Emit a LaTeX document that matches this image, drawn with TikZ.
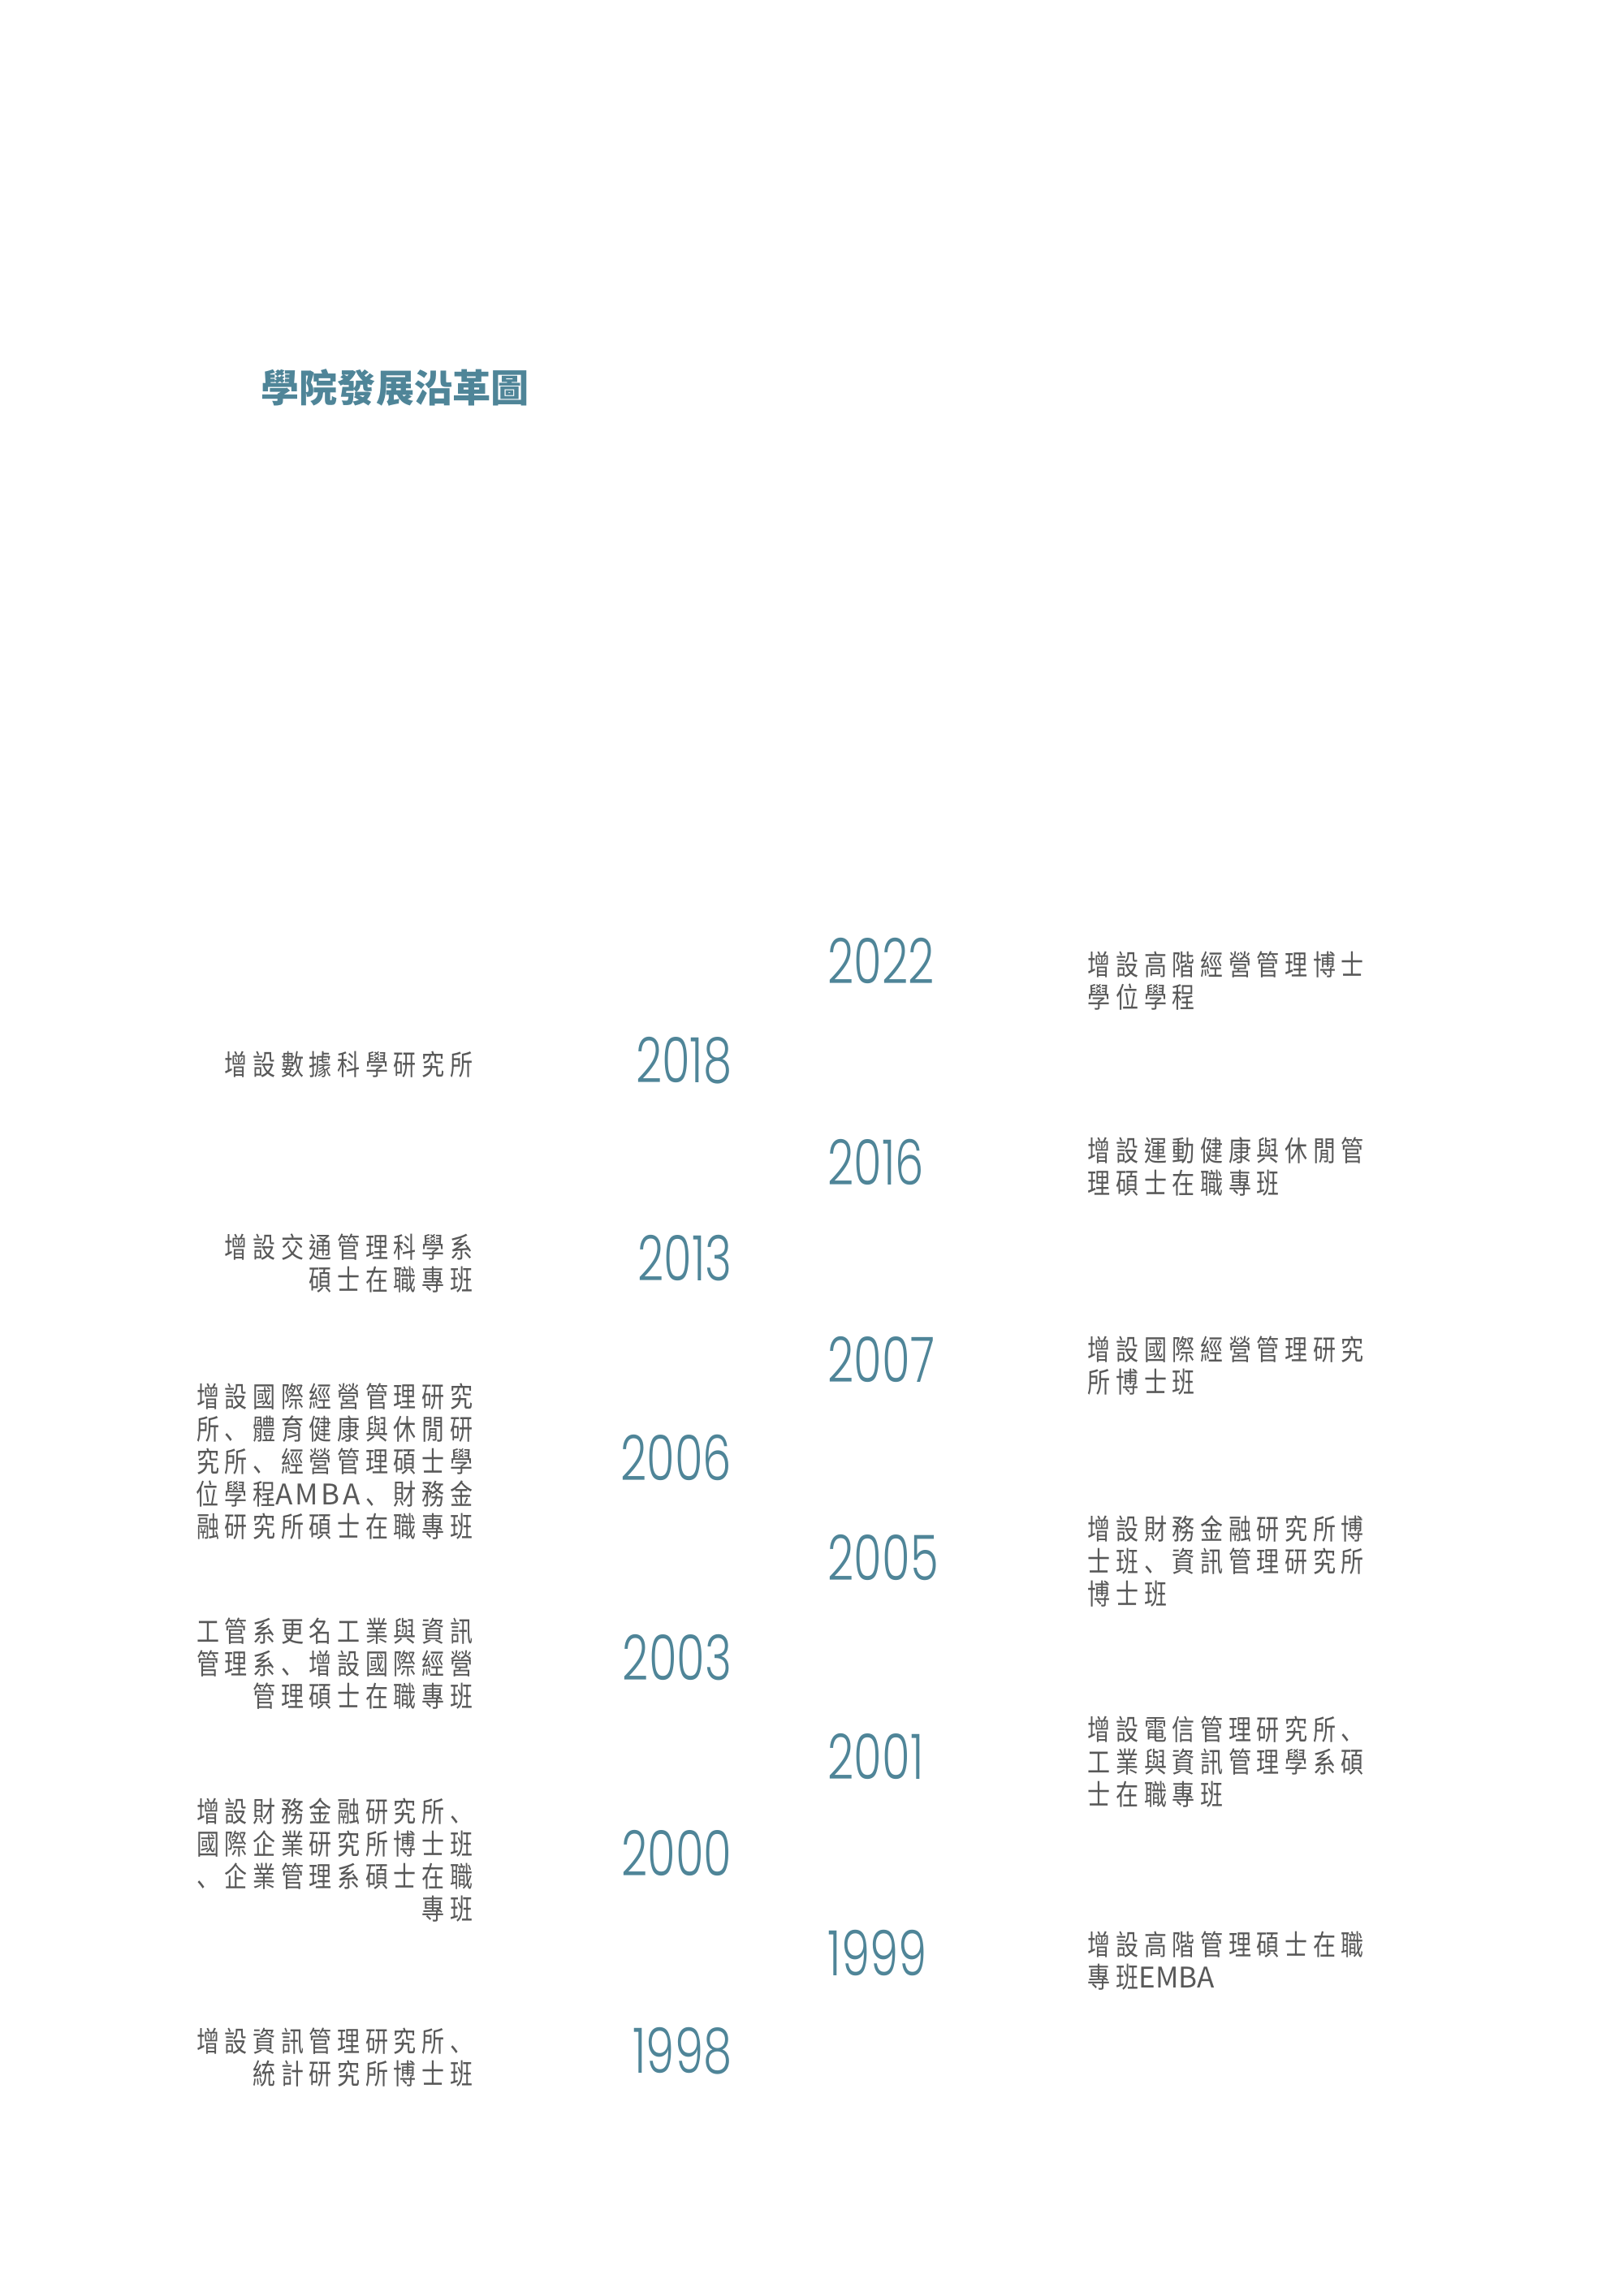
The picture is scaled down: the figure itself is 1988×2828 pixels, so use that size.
\documentclass[tikz,border=0pt]{standalone}
\usepackage{fontspec}
\setmainfont{Noto Sans CJK TC}
\newfontfamily\bodyfont[FakeStretch=0.8,LetterSpace=19]{Noto Sans CJK TC}
\newfontfamily\dunfont[FakeStretch=0.8,LetterSpace=19]{Noto Sans CJK SC}
\newfontfamily\latfont{Noto Sans CJK TC}
\newfontfamily\latwidefont[LetterSpace=10]{Noto Sans CJK TC}
\newfontfamily\titlefont{Noto Sans CJK TC}
\newfontfamily\yearfont[FakeStretch=0.73]{Poppins Light}
\newcommand{\dun}{\kern0.19em{\dunfont 、}\kern0.19em}
\newcommand{\dunend}{\kern0.19em{\dunfont 、}}
\newcommand{\dunstart}{{\dunfont 、}\kern0.19em}
\newcommand{\lat}[1]{{\latfont #1}}
\newcommand{\latw}[1]{{\latwidefont #1}}
\definecolor{teal}{RGB}{79,133,152}
\definecolor{txt}{RGB}{88,88,88}
\tikzset{
  yr/.style={inner sep=0pt, text=teal, font=\yearfont\fontsize{21.9pt}{24pt}\selectfont},
  lyr/.style={yr, anchor=east},
  ryr/.style={yr, anchor=west},
  desc/.style={inner sep=0pt, text=txt, font=\bodyfont\fontsize{9.96pt}{11.38pt}\selectfont},
  ldesc/.style={desc, anchor=north east, align=right},
  rdesc/.style={desc, anchor=north west, align=left},
  ttl/.style={inner sep=0pt, anchor=west, text=teal, font=\titlefont\bfseries\fontsize{13.4pt}{16pt}\selectfont}
}
\begin{document}
\begin{tikzpicture}[x=0.01cm,y=-0.01cm]
\useasboundingbox (0,0) rectangle (1988,2828);
\node[ttl] (title) at (321,478) {學院發展沿革圖};
% right column
\node[ryr] (y2022) at (1019,1183) {2022};
\node[rdesc] (t2022) at (1339,1171) {增設高階經營管理博士\\學位學程};
\node[ryr] (y2016) at (1019,1431) {2016};
\node[rdesc] (t2016) at (1339,1400) {增設運動健康與休閒管\\理碩士在職專班};
\node[ryr] (y2007) at (1019,1674) {2007};
\node[rdesc] (t2007) at (1339,1645) {增設國際經營管理研究\\所博士班};
\node[ryr] (y2005) at (1019,1919) {2005};
\node[rdesc] (t2005) at (1339,1866) {增設財務金融研究所博\\士班\dun 資訊管理研究所\\博士班};
\node[ryr] (y2001) at (1019,2163) {2001};
\node[rdesc] (t2001) at (1339,2113) {增設電信管理研究所\dunend\\工業與資訊管理學系碩\\士在職專班};
\node[ryr] (y1999) at (1019,2405) {1999};
\node[rdesc] (t1999) at (1339,2378) {增設高階管理碩士在職\\專班\lat{EMBA}};
% left column
\node[lyr] (y2018) at (902,1306) {2018};
\node[ldesc] (t2018) at (583,1294) {增設數據科學研究所};
\node[lyr] (y2013) at (902,1550) {2013};
\node[ldesc] (t2013) at (583,1519) {增設交通管理科學系\\碩士在職專班};
\node[lyr] (y2006) at (902,1795) {2006};
\node[ldesc] (t2006) at (583,1703) {增設國際經營管理研究\\所\dun 體育健康與休閒研\\究所\dun 經營管理碩士學\\位學程\latw{AMBA}\dun 財務金\\融研究所碩士在職專班};
\node[lyr] (y2003) at (902,2042) {2003};
\node[ldesc] (t2003) at (583,1992) {工管系更名工業與資訊\\管理系\dun 增設國際經營\\管理碩士在職專班};
\node[lyr] (y2000) at (902,2282) {2000};
\node[ldesc] (t2000) at (583,2214) {增設財務金融研究所\dunend\\國際企業研究所博士班\\\dunstart 企業管理系碩士在職\\專班};
\node[lyr] (y1998) at (902,2526) {1998};
\node[ldesc] (t1998) at (583,2497) {增設資訊管理研究所\dunend\\統計研究所博士班};
\end{tikzpicture}
\end{document}
